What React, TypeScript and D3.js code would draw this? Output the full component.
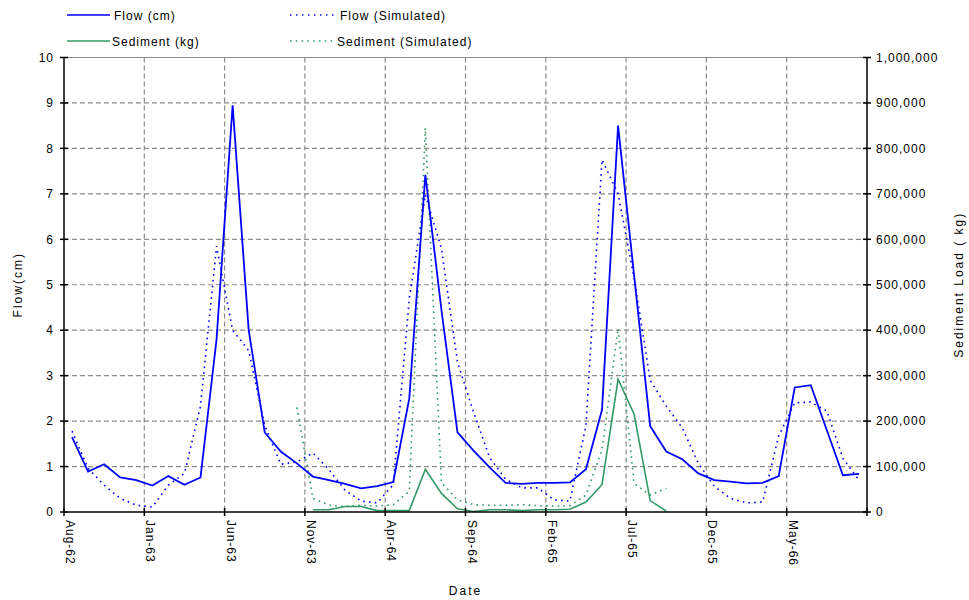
import React from "react";
import * as d3 from "d3";

const months = [
  "Aug-62", "Sep-62", "Oct-62", "Nov-62", "Dec-62",
  "Jan-63", "Feb-63", "Mar-63", "Apr-63", "May-63", "Jun-63", "Jul-63", "Aug-63", "Sep-63", "Oct-63", "Nov-63", "Dec-63",
  "Jan-64", "Feb-64", "Mar-64", "Apr-64", "May-64", "Jun-64", "Jul-64", "Aug-64", "Sep-64", "Oct-64", "Nov-64", "Dec-64",
  "Jan-65", "Feb-65", "Mar-65", "Apr-65", "May-65", "Jun-65", "Jul-65", "Aug-65", "Sep-65", "Oct-65", "Nov-65", "Dec-65",
  "Jan-66", "Feb-66", "Mar-66", "Apr-66", "May-66", "Jun-66", "Jul-66", "Aug-66", "Sep-66",
];

const tickLabels = ["Aug-62", "Jan-63", "Jun-63", "Nov-63", "Apr-64", "Sep-64", "Feb-65", "Jul-65", "Dec-65", "May-66"];

const flowObserved = [
  1.65, 0.89, 1.05, 0.76, 0.7, 0.58, 0.79, 0.6, 0.76, 3.8,
  8.95, 4.0, 1.75, 1.33, 1.07, 0.78, 0.7, 0.62, 0.52, 0.57,
  0.66, 2.5, 7.42, 4.45, 1.75, 1.35, 0.98, 0.64, 0.62, 0.64,
  0.64, 0.65, 0.94, 2.25, 8.5, 5.2, 1.89, 1.33, 1.16, 0.85,
  0.7, 0.67, 0.63, 0.64, 0.79, 2.74, 2.79, 1.8, 0.81, 0.84,
];

const flowSimulated = [
  1.78, 0.96, 0.59, 0.3, 0.15, 0.11, 0.59, 0.85, 2.33, 5.85,
  4.0, 3.55, 1.9, 1.05, 1.1, 1.3, 0.93, 0.48, 0.24, 0.2,
  0.6, 4.7, 6.98, 5.8, 3.3, 2.2, 1.2, 0.72, 0.53, 0.53,
  0.27, 0.24, 1.9, 7.75, 7.0, 5.15, 2.9, 2.33, 1.85, 1.07,
  0.56, 0.3, 0.2, 0.22, 1.67, 2.4, 2.42, 2.22, 1.18, 0.7,
];

const sedimentObserved: (number | null)[] = [
  null, null, null, null, null, null, null, null, null, null,
  null, null, null, null, null, 5000, 5000, 12000, 12000, 3000,
  3000, 3000, 94000, 41000, 7000, 1000, 5000, 5000, 3000, 5000,
  5000, 6000, 22000, 60000, 292000, 215000, 25000, 2000, null, null,
  null, null, null, null, null, null, null, null, null, null,
];

const sedimentSimulated: (number | null)[] = [
  null, null, null, null, null, null, null, null, null, null,
  null, null, null, null, 230000, 30000, 15000, 12000, 15000, 13000,
  16000, 46000, 845000, 65000, 27000, 16000, 15000, 15000, 16000, 14000,
  13000, 14000, 37000, 137000, 404000, 63000, 37000, 52000, null, null,
  null, null, null, null, null, null, null, null, null, null,
];

const flowTicks = [0, 1, 2, 3, 4, 5, 6, 7, 8, 9, 10];
const sedimentTicks = [0, 100000, 200000, 300000, 400000, 500000, 600000, 700000, 800000, 900000, 1000000];

const BLUE = "#0000ff";
const GREEN = "#339966";
const FONT = "'Liberation Sans', Arial, sans-serif";

export default function App() {
  const left = 64;
  const right = 867;
  const top = 57.5;
  const bottom = 512;

  const x = d3.scaleBand<string>().domain(months).range([left, right]).padding(0);
  const cx = (i: number) => (x(months[i]) as number) + x.bandwidth() / 2;
  const yL = d3.scaleLinear().domain([0, 10]).range([bottom, top]);
  const yR = d3.scaleLinear().domain([0, 1000000]).range([bottom, top]);

  const lineL = d3
    .line<number | null>()
    .defined((d) => d != null)
    .x((_, i) => cx(i))
    .y((d) => yL(d as number));
  const lineR = d3
    .line<number | null>()
    .defined((d) => d != null)
    .x((_, i) => cx(i))
    .y((d) => yR(d as number));

  const fmt = d3.format(",");
  const xTicks = tickLabels.map((t) => x(t) as number);
  const allXTicks = [...xTicks, right];

  const textStyle = { fontFamily: FONT, fontSize: 12, letterSpacing: 1 } as const;
  const titleStyle = { fontFamily: FONT, fontSize: 12, letterSpacing: 2 } as const;

  return (
    <svg
      width={969}
      height={600}
      style={{ position: "absolute", left: 0, top: 0, background: "#fff" }}
    >
      <rect x={0} y={0} width={969} height={600} fill="#fff" />
      {/* horizontal gridlines */}
      {flowTicks.slice(1).map((t) => (
        <line
          key={"hg" + t}
          x1={left}
          x2={right}
          y1={yL(t)}
          y2={yL(t)}
          stroke="#8c8c8c"
          strokeWidth={1.2}
          strokeDasharray={t === 10 ? undefined : "5,3"}
        />
      ))}
      {/* vertical gridlines */}
      {xTicks.slice(1).map((t, i) => (
        <line
          key={"vg" + i}
          x1={t}
          x2={t}
          y1={top}
          y2={bottom}
          stroke="#8c8c8c"
          strokeWidth={1.2}
          strokeDasharray="5,3"
        />
      ))}

      {/* series */}
      <path d={lineL(flowSimulated) || ""} fill="none" stroke={BLUE} strokeWidth={1.6} strokeDasharray="1.6,4.2" />
      <path d={lineR(sedimentSimulated) || ""} fill="none" stroke={GREEN} strokeWidth={1.6} strokeDasharray="1.6,4.2" />
      <path d={lineR(sedimentObserved) || ""} fill="none" stroke={GREEN} strokeWidth={1.6} />
      <path d={lineL(flowObserved) || ""} fill="none" stroke={BLUE} strokeWidth={1.8} />

      {/* left axis */}
      <line x1={left} x2={left} y1={top} y2={bottom} stroke="#000" strokeWidth={1.5} />
      {flowTicks.map((t) => (
        <g key={"lt" + t}>
          <line x1={left - 4} x2={left + 4} y1={yL(t)} y2={yL(t)} stroke="#000" strokeWidth={1.5} />
          <text x={left - 10} y={yL(t)} dy="0.35em" textAnchor="end" style={textStyle}>
            {t}
          </text>
        </g>
      ))}
      {/* right axis */}
      <line x1={right} x2={right} y1={top} y2={bottom} stroke="#000" strokeWidth={1.5} />
      {sedimentTicks.map((t) => (
        <g key={"rt" + t}>
          <line x1={right - 4} x2={right + 4} y1={yR(t)} y2={yR(t)} stroke="#000" strokeWidth={1.5} />
          <text x={right + 9} y={yR(t)} dy="0.35em" textAnchor="start" style={textStyle}>
            {fmt(t)}
          </text>
        </g>
      ))}
      {/* bottom axis */}
      <line x1={left} x2={right} y1={bottom} y2={bottom} stroke="#000" strokeWidth={1.5} />
      {allXTicks.map((t, i) => (
        <line key={"bt" + i} x1={t} x2={t} y1={bottom - 4} y2={bottom + 4} stroke="#000" strokeWidth={1.5} />
      ))}
      {tickLabels.map((lab, i) => (
        <text
          key={"bl" + lab}
          transform={`translate(${xTicks[i] + 2},${bottom + 8}) rotate(90)`}
          textAnchor="start"
          style={textStyle}
        >
          {lab}
        </text>
      ))}

      {/* axis titles */}
      <text x={(left + right) / 2} y={595} textAnchor="middle" style={titleStyle}>
        Date
      </text>
      <text
        transform={`translate(22,${(top + bottom) / 2}) rotate(-90)`}
        textAnchor="middle"
        style={titleStyle}
      >
        Flow(cm)
      </text>
      <text
        transform={`translate(963,${(top + bottom) / 2}) rotate(-90)`}
        textAnchor="middle"
        style={titleStyle}
      >
        Sediment Load ( kg)
      </text>

      {/* legend */}
      <line x1={67} x2={110} y1={15} y2={15} stroke={BLUE} strokeWidth={1.6} />
      <text x={114} y={19.5} style={textStyle}>Flow (cm)</text>
      <line x1={290} x2={335} y1={15} y2={15} stroke={BLUE} strokeWidth={1.4} strokeDasharray="1.4,4.6" />
      <text x={340} y={19.5} style={textStyle}>Flow (Simulated)</text>
      <line x1={67} x2={110} y1={41} y2={41} stroke={GREEN} strokeWidth={1.6} />
      <text x={112} y={45.5} style={textStyle}>Sediment (kg)</text>
      <line x1={290} x2={335} y1={41} y2={41} stroke={GREEN} strokeWidth={1.6} strokeDasharray="1.6,4.2" />
      <text x={337} y={45.5} style={textStyle}>Sediment (Simulated)</text>
    </svg>
  );
}
